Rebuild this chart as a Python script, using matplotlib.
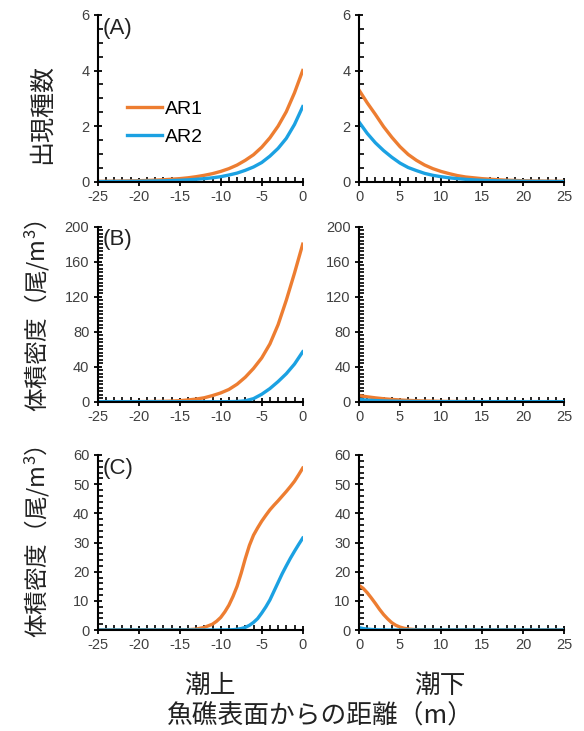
import matplotlib
matplotlib.use('Agg')
import matplotlib.pyplot as plt
from matplotlib.ticker import MultipleLocator

plt.rcParams.update({
    'font.family': ['Liberation Sans', 'DejaVu Sans'],
    'axes.unicode_minus': False,
    'mathtext.fontset': 'custom',
    'mathtext.rm': 'Noto Sans CJK JP',
    'mathtext.it': 'Noto Sans CJK JP',
    'mathtext.default': 'rm',
})

JP = ['Noto Sans CJK JP', 'DejaVu Sans']
C_AR1 = '#ED7D31'
C_AR2 = '#1BA1E2'
TICK_C = '#404040'

# ── x positions (m) ──
X_UP = [-25, -24, -23, -22, -21, -20, -19, -18, -17, -16, -15, -14, -13,
        -12, -11, -10, -9, -8, -7, -6, -5, -4, -3, -2, -1, 0]
X_DOWN = list(range(0, 26))
X_C_UP = [-25, -20, -15, -14, -13, -12, -11, -10.5, -10, -9.5, -9, -8.5, -8,
          -7.5, -7, -6.5, -6, -5.5, -5, -4.5, -4, -3.5, -3, -2.5, -2, -1.5,
          -1, -0.5, 0]
X_C_DN = [0, 0.5, 1, 1.5, 2, 2.5, 3, 3.5, 4, 4.5, 5, 5.5, 6,
          7, 8, 9, 10, 15, 20, 25]

# ── (A) species count ──
A_UP_AR1 = [0.012, 0.015, 0.02, 0.025, 0.03, 0.035, 0.045, 0.055, 0.07, 0.09,
            0.11, 0.14, 0.18, 0.23, 0.29, 0.37, 0.47, 0.60, 0.77, 0.97,
            1.24, 1.58, 2.0, 2.52, 3.2, 4.0]
A_UP_AR2 = [0.005, 0.006, 0.008, 0.01, 0.012, 0.015, 0.02, 0.025, 0.03, 0.04,
            0.05, 0.065, 0.085, 0.11, 0.14, 0.18, 0.24, 0.31, 0.41, 0.53,
            0.69, 0.92, 1.2, 1.56, 2.06, 2.7]
A_DN_AR1 = [3.3, 2.84, 2.42, 1.98, 1.6, 1.26, 0.98, 0.77, 0.6, 0.47,
            0.37, 0.29, 0.22, 0.17, 0.14, 0.11, 0.09, 0.07, 0.055, 0.045,
            0.035, 0.03, 0.025, 0.02, 0.015, 0.012]
A_DN_AR2 = [2.15, 1.74, 1.4, 1.12, 0.88, 0.67, 0.51, 0.4, 0.3, 0.23,
            0.18, 0.14, 0.11, 0.085, 0.065, 0.05, 0.04, 0.03, 0.025, 0.02,
            0.015, 0.012, 0.01, 0.008, 0.006, 0.005]

# ── (B) volume density ──
B_UP_AR1 = [0.05, 0.05, 0.05, 0.06, 0.08, 0.1, 0.15, 0.25, 0.4, 0.7,
            1.2, 2.0, 3.0, 4.5, 7.0, 10.0, 14.0, 20.0, 28.0, 38.0,
            50.0, 66.0, 88.0, 116.0, 147.0, 180.0]
B_UP_AR2 = [0, 0, 0, 0, 0, 0, 0, 0, 0, 0,
            0, 0, 0, 0, 0, 0, 0.05, 0.2, 1.0, 3.5,
            8.5, 15.0, 23.0, 32.0, 43.0, 57.0]
B_DN_AR1 = [7.0, 5.6, 4.4, 3.4, 2.6, 2.0, 1.5, 1.1, 0.8, 0.6,
            0.4, 0.3, 0.2, 0.15, 0.1, 0.05, 0.05, 0.05, 0.05, 0.05,
            0.05, 0.05, 0.05, 0.05, 0.05, 0.05]
B_DN_AR2 = [2.5, 1.8, 1.3, 0.9, 0.6, 0.4, 0.3, 0.2, 0.1, 0.05,
            0.05, 0.05, 0.05, 0.05, 0.05, 0.05, 0.05, 0.05, 0.05, 0.05,
            0.05, 0.05, 0.05, 0.05, 0.05, 0.05]

# ── (C) volume density ──
C_UP_AR1 = [0.05, 0.05, 0.05, 0.1, 0.3, 0.9, 2.0, 3.0, 4.3, 6.2, 8.5, 11.5,
            15.0, 19.5, 24.5, 29.0, 32.5, 35.0, 37.3, 39.3, 41.2, 42.8, 44.3,
            45.9, 47.5, 49.2, 51.0, 53.2, 55.5]
C_UP_AR2 = [0, 0, 0, 0, 0, 0, 0, 0, 0, 0.02, 0.05, 0.1, 0.25, 0.5, 0.9, 1.6,
            2.6, 3.9, 5.8, 7.9, 10.3, 13.3, 16.3, 19.3, 22.0, 24.6, 27.0,
            29.3, 31.5]
C_DN_AR1 = [15.3, 14.3, 12.8, 11.0, 9.1, 7.1, 5.3, 3.8, 2.5, 1.6, 1.0, 0.6,
            0.35, 0.1, 0.03, 0, 0, 0, 0, 0]
C_DN_AR2 = [0.8, 0.5, 0.3, 0.18, 0.1, 0.05, 0.03, 0, 0, 0, 0, 0, 0,
            0, 0, 0, 0, 0, 0, 0]

W, H = 584, 731
fig = plt.figure(figsize=(W / 100, H / 100), dpi=100)


def px_axes(x0, x1, y_top, y_bot):
    return fig.add_axes([x0 / W, 1 - y_bot / H, (x1 - x0) / W, (y_bot - y_top) / H])


def style(ax, xlim, ylim, ymaj, ymin):
    ax.set_xlim(*xlim)
    ax.set_ylim(*ylim)
    ax.xaxis.set_major_locator(MultipleLocator(5))
    ax.xaxis.set_minor_locator(MultipleLocator(1))
    ax.yaxis.set_major_locator(MultipleLocator(ymaj))
    ax.yaxis.set_minor_locator(MultipleLocator(ymin))
    for s in ['top', 'right']:
        ax.spines[s].set_visible(False)
    for s in ['left', 'bottom']:
        ax.spines[s].set_linewidth(1.5)
    ax.tick_params(which='major', direction='inout', length=6, width=1.3,
                   labelsize=10.5, labelcolor=TICK_C, pad=3)
    ax.tick_params(which='minor', direction='in', length=3.5, width=1.2)
    ax.set_facecolor('none')


rows = [
    (15, 181.7, (0, 6), 2, 0.5, X_UP, X_DOWN,
     (A_UP_AR1, A_UP_AR2, A_DN_AR1, A_DN_AR2), '(A)'),
    (226.7, 401.7, (0, 200), 40, 4, X_UP, X_DOWN,
     (B_UP_AR1, B_UP_AR2, B_DN_AR1, B_DN_AR2), '(B)'),
    (455, 630, (0, 60), 10, 2, X_C_UP, X_C_DN,
     (C_UP_AR1, C_UP_AR2, C_DN_AR1, C_DN_AR2), '(C)'),
]

for ri, (yt, yb, ylim, ymaj, ymin, xu, xd, data, tag) in enumerate(rows):
    up1, up2, dn1, dn2 = data
    axL = px_axes(97.7, 302.7, yt, yb)
    axR = px_axes(359, 564, yt, yb)
    axL.plot(xu, up1, color=C_AR1, lw=2.4, label='AR1', solid_joinstyle='round')
    axL.plot(xu, up2, color=C_AR2, lw=2.4, label='AR2', solid_joinstyle='round')
    axR.plot(xd, dn1, color=C_AR1, lw=2.4, solid_joinstyle='round')
    axR.plot(xd, dn2, color=C_AR2, lw=2.4, solid_joinstyle='round')
    style(axL, (-25, 0), ylim, ymaj, ymin)
    style(axR, (0, 25), ylim, ymaj, ymin)
    axL.text(0.022, 0.985, tag, transform=axL.transAxes, ha='left', va='top',
             fontsize=16, color='#222222')
    if ri == 0:
        axL.legend(loc='upper left', bbox_to_anchor=(0.105, 0.535), frameon=False,
                   fontsize=14, handlelength=1.8, handletextpad=0.15,
                   labelspacing=0.55, borderaxespad=0)

# y labels
fig.text(42 / W, 1 - 114 / H, '出現種数', rotation=90, ha='center', va='center',
         fontsize=18, family=JP, color='#222222')
for yc in (316, 542):
    fig.text(37 / W, 1 - yc / H, '体積密度（尾/m$^3$）', rotation=90,
             ha='center', va='center', fontsize=17, family=JP, color='#222222')

# x labels
fig.text(210 / W, 1 - 686 / H, '潮上', ha='center', va='center',
         fontsize=18.5, family=JP, color='#222222')
fig.text(440 / W, 1 - 686 / H, '潮下', ha='center', va='center',
         fontsize=18.5, family=JP, color='#222222')
fig.text(319 / W, 1 - 716 / H, '魚礁表面からの距離（m）', ha='center', va='center',
         fontsize=18.5, family=JP, color='#222222')

fig.savefig('out.png', dpi=100)
